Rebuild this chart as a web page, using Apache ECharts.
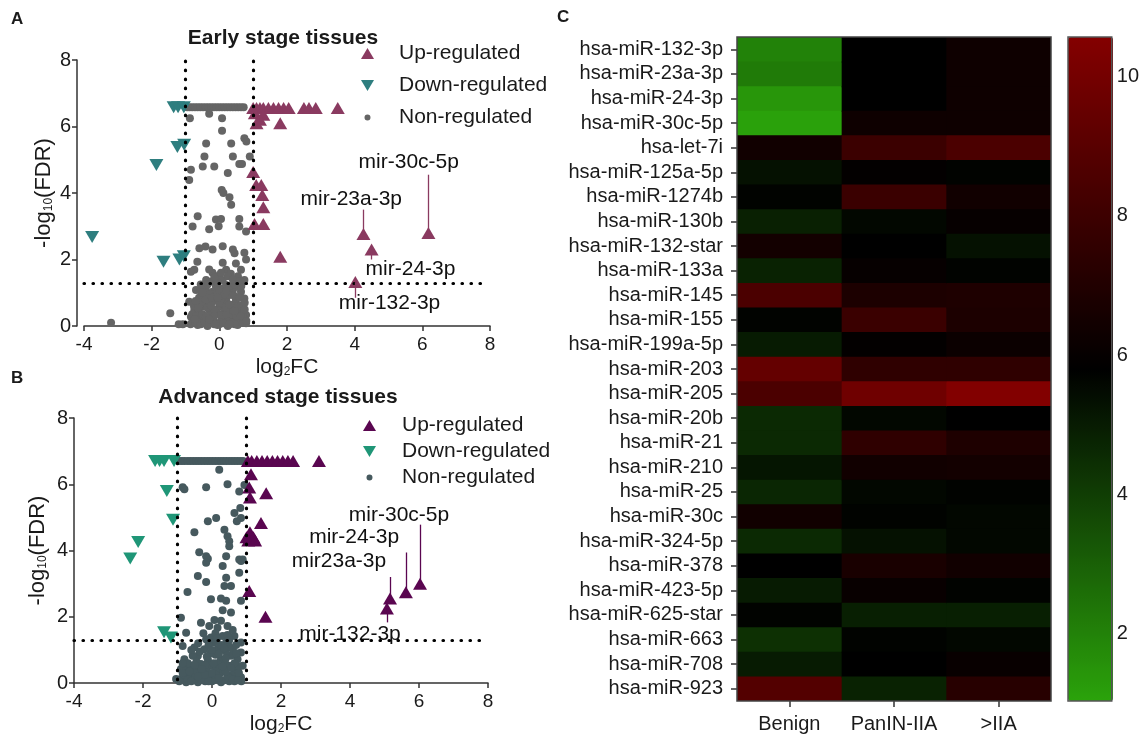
<!DOCTYPE html>
<html>
<head>
<meta charset="utf-8">
<title>miRNA volcano plots and heatmap</title>
<script src="https://cdn.jsdelivr.net/npm/echarts@6/dist/echarts.min.js"></script>
<style>
  html, body { margin: 0; padding: 0; background: #fff; }
  #chart { width: 1142px; height: 736px; }
</style>
</head>
<body>
<div id="chart"></div>
<script>
// ---- panel A: early stage (log2FC, -log10 FDR) ----
const earlyUp = [
  [1.0, 6.56], [1.1, 6.56], [1.2, 6.56], [1.3, 6.56], [1.45, 6.56], [1.6, 6.56], [1.75, 6.56],
  [1.9, 6.56], [2.05, 6.56], [2.5, 6.56], [2.65, 6.56], [2.85, 6.56], [3.5, 6.56],
  [1.05, 6.4], [1.3, 6.35], [1.1, 6.1], [1.2, 6.2], [1.8, 6.1],
  [1.0, 4.63], [1.09, 4.24], [1.24, 4.24], [1.27, 3.94], [1.3, 3.57], [1.04, 3.07], [1.3, 3.07], [1.8, 2.08],
  [4.26, 2.77], [4.5, 2.3], [4.02, 1.32], [6.18, 2.8]
];
const earlyDown = [
  [-1.35, 6.58], [-1.22, 6.58], [-1.05, 6.58], [-1.24, 5.38], [-1.04, 5.45], [-1.86, 4.84],
  [-3.76, 2.68], [-1.65, 1.93], [-1.18, 2.0], [-1.05, 2.1]
];
const earlyNon = [
  // saturated row
  [-0.95, 6.58], [-0.88, 6.58], [-0.8, 6.58], [-0.72, 6.58], [-0.64, 6.58], [-0.56, 6.58], [-0.48, 6.58],
  [-0.4, 6.58], [-0.32, 6.58], [-0.24, 6.58], [-0.16, 6.58], [-0.08, 6.58], [0, 6.58], [0.08, 6.58],
  [0.16, 6.58], [0.24, 6.58], [0.32, 6.58], [0.4, 6.58], [0.48, 6.58], [0.56, 6.58], [0.64, 6.58], [0.72, 6.58],
  // scattered
  [-0.3, 6.38], [0.08, 6.25], [-0.87, 6.25], [0.08, 5.87], [-0.39, 5.49], [0.35, 5.49], [0.74, 5.65],
  [0.8, 5.55], [-0.44, 5.1], [0.4, 5.1], [0.59, 4.87], [0.67, 4.87], [0.9, 5.1], [-0.49, 4.8], [-0.15, 4.8],
  [-0.84, 4.7], [0.25, 4.6], [-0.89, 4.39], [0.07, 4.09], [0.12, 4.0], [0.3, 3.87], [0.35, 3.65],
  [-0.64, 3.3], [-0.1, 3.2], [0.05, 3.22], [0.59, 3.22], [-0.79, 2.99], [-0.3, 2.91], [-0.02, 3.0],
  [0.59, 2.99], [0.79, 2.84],
  // dense cluster
  [-0.59, 2.34], [-0.41, 2.39], [-0.2, 2.3], [0.1, 2.4], [0.4, 2.3], [0.45, 2.19], [0.74, 2.2], [0.79, 2.0],
  [-0.65, 1.93], [-0.74, 1.69], [-0.84, 1.63], [0.1, 1.9], [0.49, 1.88], [0.64, 1.69], [-0.2, 1.6],
  [0, 1.53], [0.2, 1.69], [0.34, 1.57], [-0.39, 1.38], [-0.25, 1.33], [0.1, 1.38], [0.49, 1.33], [0.74, 1.38],
  [-0.69, 1.08], [-0.49, 0.88], [-0.2, 1.03], [0.1, 1.13], [0.4, 1.08], [0.64, 1.03], [-0.89, 0.73],
  [-0.74, 0.48], [-0.39, 0.68], [-0.1, 0.88], [0.2, 0.78], [0.49, 0.78], [0.69, 0.63], [-0.59, 0.38],
  [-0.3, 0.48], [0, 0.58], [0.3, 0.48], [0.59, 0.43], [-0.79, 0.18], [-0.49, 0.23], [-0.2, 0.18], [0.1, 0.28],
  [0.4, 0.23], [0.64, 0.18], [-0.64, 0.03], [-0.35, 0.0], [-0.05, 0.03], [0.25, 0.0], [0.54, 0.03], [0.79, 0.08],
  [-0.49, 0.58], [-0.2, 0.73], [0.1, 0.68], [0.4, 0.63], [-0.05, 0.38], [0.25, 0.23], [-0.39, 0.08],
  [0.49, 0.13], [0.79, 0.33], [-0.84, 0.28], [-0.1, 1.18], [0.2, 1.23], [-0.3, 0.98], [0.3, 0.93],
  [0.54, 1.18], [0, 1.03], [-0.54, 0.68], [0.74, 0.83], [-0.15, 0.5], [0.15, 0.45], [0.35, 0.35],
  [-0.25, 0.3], [0.6, 0.6], [-0.6, 0.15], [0.05, 0.15],
  [-0.85, 0.05], [-0.7, 0.1], [-0.55, 0.05], [-0.45, 0.12], [-0.3, 0.08], [-0.12, 0.1], [0.0, 0.05],
  [0.12, 0.08], [0.35, 0.1], [0.45, 0.05], [0.7, 0.1], [-0.8, 0.35], [-0.68, 0.3], [-0.5, 0.35],
  [-0.4, 0.28], [-0.15, 0.3], [0.05, 0.33], [0.2, 0.35], [0.5, 0.3], [0.7, 0.28], [-0.75, 0.6],
  [-0.62, 0.55], [-0.35, 0.55], [-0.25, 0.62], [0.2, 0.55], [0.3, 0.65], [0.52, 0.55], [0.75, 0.5],
  [-0.6, 0.85], [-0.4, 0.8], [-0.22, 0.85], [0.05, 0.8], [0.15, 0.95], [0.45, 0.9], [0.6, 0.85],
  [0.75, 0.7], [-0.55, 1.05], [-0.4, 1.15], [-0.05, 1.3], [0.3, 1.2], [0.45, 1.25], [0.65, 1.2],
  [-0.15, 1.45], [0.25, 1.5], [0.55, 1.5],
  [-0.7, 0.75], [-0.5, 1.0], [0.0, 0.7], [0.3, 0.05], [-0.15, 0.05], [0.62, 0.3], [0.45, 0.45],
  [-0.3, 0.2], [-0.05, 0.85], [0.2, 1.05], [-0.35, 1.25], [0.4, 1.4], [0.6, 1.35], [-0.55, 1.25],
  [0.05, 1.6], [-0.3, 1.7], [0.8, 0.15], [-0.72, 0.2],
  // outliers
  [-3.2, 0.1], [-1.45, 0.38], [-1.2, 0.05], [-1.08, 0.05]
];
const earlyNotes = [
  // name, point, leader end, label centre
  ['mir-30c-5p', [6.18, 2.8], [6.18, 4.55], [5.6, 4.92]],
  ['mir-23a-3p', [4.26, 2.77], [4.26, 3.5], [3.9, 3.8]],
  ['mir-24-3p', [4.5, 2.3], [4.5, 2.0], [5.65, 1.7]],
  ['mir-132-3p', [4.02, 1.32], [4.02, 0.85], [5.03, 0.68]]
];

// ---- panel B: advanced stage ----
const advUp = [
  [1.04, 6.7], [1.15, 6.7], [1.3, 6.7], [1.45, 6.7], [1.6, 6.7], [1.75, 6.7], [1.9, 6.7], [2.05, 6.7],
  [2.2, 6.7], [2.35, 6.7], [3.1, 6.7],
  [1.13, 6.3], [1.08, 5.9], [1.1, 5.6], [1.57, 5.73], [1.42, 4.83], [1.0, 4.4], [1.1, 4.55], [1.2, 4.4],
  [1.05, 4.3], [1.25, 4.3], [1.08, 2.78], [1.55, 2.0],
  [6.03, 3.0], [5.62, 2.74], [5.16, 2.55], [5.07, 2.25]
];
const advDown = [
  [-1.65, 6.7], [-1.52, 6.7], [-1.39, 6.7], [-1.1, 6.7], [-1.31, 5.8], [-1.13, 4.93],
  [-2.14, 4.26], [-2.37, 3.76], [-1.39, 1.53], [-1.19, 1.37]
];
const advNon = [
  [-0.95, 6.7], [-0.87, 6.7], [-0.79, 6.7], [-0.7, 6.7], [-0.62, 6.7], [-0.54, 6.7], [-0.46, 6.7],
  [-0.38, 6.7], [-0.3, 6.7], [-0.22, 6.7], [-0.14, 6.7], [-0.06, 6.7], [0.02, 6.7], [0.1, 6.7],
  [0.18, 6.7], [0.26, 6.7], [0.34, 6.7], [0.42, 6.7], [0.5, 6.7], [0.58, 6.7], [0.66, 6.7], [0.74, 6.7],
  [0.82, 6.7], [0.9, 6.7],
  [0.21, 6.44], [-0.85, 5.91], [-0.8, 5.85], [-0.17, 5.91], [0.45, 6.0], [0.79, 5.78], [0.94, 5.98],
  [0.82, 5.28], [0.65, 5.13], [0.84, 4.98], [0.72, 4.88], [0.12, 4.98], [-0.12, 4.88], [-0.51, 4.55],
  [0.36, 4.63], [0.45, 4.43], [0.5, 4.28], [0.5, 4.13], [-0.37, 3.95], [-0.17, 3.83], [-0.12, 3.75],
  [0.41, 3.83], [0.79, 3.73], [0.89, 3.73], [0.31, 3.53],
  [-0.17, 3.63], [0.84, 3.68], [0.79, 3.33], [-0.41, 3.23], [-0.17, 3.05], [0.41, 3.18], [0.36, 2.93],
  [0.55, 2.93], [-0.71, 2.75], [-0.03, 2.53], [0.26, 2.55], [0.41, 2.48], [0.55, 2.13], [0.31, 2.2],
  [0.84, 2.48], [-0.32, 1.82], [-0.9, 1.97], [0.07, 1.9], [0.26, 1.88], [-0.08, 1.72], [0.16, 1.67],
  [0.45, 1.72], [-0.75, 1.52], [-0.03, 1.37], [-0.17, 1.32], [0.65, 1.42], [0.84, 1.22], [-0.85, 1.12],
  [-0.51, 1.07], [-0.41, 0.82], [-0.12, 0.72], [0.41, 1.22], [0.74, 0.72], [0.89, 0.52], [-0.9, 0.42],
  [-0.61, 0.22], [-0.9, 0.12], [-1.04, 0.12], [-0.32, 0.27], [-0.03, 0.17], [0.26, 0.32], [0.55, 0.22],
  [0.84, 0.17], [-0.41, 0.02], [0.26, 0.02], [-0.03, 0.52], [0.26, 0.72], [0.55, 0.82], [0.5, 0.52],
  [-0.32, 0.57], [-0.61, 0.52], [0.16, 1.02], [0.6, 1.02], [-0.22, 1.02], [0.07, 1.22], [0.31, 1.42],
  [0.84, 0.92], [-0.8, 0.72], [-0.56, 0.82], [0.0, 0.05], [0.5, 0.05], [-0.2, 0.05], [0.7, 0.4],
  [-0.75, 0.02], [0.12, 0.42], [0.38, 0.6], [-0.45, 0.4], [0.65, 0.05], [0.1, 0.85], [0.4, 0.95],
  [-0.95, 0.05], [-0.8, 0.25], [-0.7, 0.1], [-0.5, 0.12], [-0.3, 0.1], [-0.1, 0.05], [0.1, 0.1],
  [0.35, 0.08], [0.45, 0.2], [0.7, 0.2], [0.85, 0.05], [-0.75, 0.45], [-0.5, 0.3], [-0.15, 0.35],
  [0.1, 0.25], [0.4, 0.35], [0.65, 0.35], [0.78, 0.5], [-0.7, 0.6], [-0.45, 0.65], [-0.2, 0.55],
  [0.15, 0.6], [0.4, 0.75], [0.65, 0.6], [-0.35, 0.95], [-0.05, 0.9], [0.2, 0.88], [0.5, 1.1],
  [0.7, 0.9], [-0.1, 1.15], [0.25, 1.15], [0.45, 1.45], [0.1, 1.5], [-0.25, 1.5], [0.6, 1.6],
  [-0.85, 0.3], [-0.6, 0.05], [-0.4, 0.2], [-0.2, 0.25], [0.0, 0.3], [0.2, 0.15], [0.6, 0.1],
  [0.78, 0.3], [-0.65, 0.35], [-0.3, 0.42], [0.05, 0.6], [0.3, 0.5], [0.55, 0.45], [-0.5, 0.55],
  [-0.15, 0.8], [0.0, 1.0], [0.35, 1.05], [0.7, 1.15], [-0.4, 1.2], [0.15, 1.35], [0.5, 1.3],
  [-0.6, 1.0], [0.75, 0.08], [-0.85, 0.6]
];
const advNotes = [
  ['mir-30c-5p', [6.03, 3.0], [6.03, 4.78], [5.42, 5.08]],
  ['mir-24-3p', [5.62, 2.74], [5.62, 3.94], [4.12, 4.4]],
  ['mir23a-3p', [5.16, 2.55], [5.16, 3.2], [3.68, 3.67]],
  ['mir-132-3p', [5.07, 2.25], [5.07, 1.83], [4.0, 1.47]]
];

const fcCut = 1;
const fdrCut = 1.3;

// ---- panel C: heatmap ----
const mirnas = [
  'hsa-miR-132-3p', 'hsa-miR-23a-3p', 'hsa-miR-24-3p', 'hsa-miR-30c-5p', 'hsa-let-7i', 'hsa-miR-125a-5p',
  'hsa-miR-1274b', 'hsa-miR-130b', 'hsa-miR-132-star', 'hsa-miR-133a', 'hsa-miR-145', 'hsa-miR-155',
  'hsa-miR-199a-5p', 'hsa-miR-203', 'hsa-miR-205', 'hsa-miR-20b', 'hsa-miR-21', 'hsa-miR-210',
  'hsa-miR-25', 'hsa-miR-30c', 'hsa-miR-324-5p', 'hsa-miR-378', 'hsa-miR-423-5p', 'hsa-miR-625-star',
  'hsa-miR-663', 'hsa-miR-708', 'hsa-miR-923'
];
const stages = ['Benign', 'PanIN-IIA', '>IIA'];
const benign = [2.0, 2.2, 1.4, 1.1, 6.4, 5.3, 5.7, 4.85, 6.5, 4.8, 8.5, 5.7, 5.0, 9.4, 8.5, 4.6, 4.6, 5.2, 4.7, 6.4, 4.6, 5.8, 5.0, 5.7, 4.4, 5.0, 8.8];
const panin = [5.8, 5.8, 5.8, 6.3, 7.95, 5.9, 7.9, 5.6, 5.8, 6.0, 6.8, 7.9, 5.9, 7.5, 9.8, 5.6, 7.5, 6.4, 5.6, 5.7, 5.3, 6.7, 6.1, 4.9, 5.7, 5.8, 4.8];
const advanced = [6.3, 6.3, 6.3, 6.3, 8.5, 5.7, 6.4, 6.0, 5.3, 5.7, 6.9, 6.8, 6.2, 7.5, 10.5, 5.8, 6.9, 6.5, 5.7, 5.6, 5.6, 6.4, 5.7, 4.9, 5.6, 6.1, 7.2];
const scaleMin = 1.03;
const scaleMax = 10.57;
const scaleTicks = [2, 4, 6, 8, 10];

const FONT = 'Liberation Sans, Arial, sans-serif';
const INK = '#1a1a1a';

const heatData = [];
[benign, panin, advanced].forEach((col, ci) => {
  col.forEach((v, ri) => heatData.push([ci, ri, v]));
});

const subRich = { s: { fontSize: 12, color: INK, fontFamily: FONT, padding: [9, 0, 0, 0] } };

function volcanoAxes(gridIndex, yOffset, yNameGap) {
  const x = {
    type: 'value', gridIndex: gridIndex, min: -4, max: 8, interval: 2,
    name: 'log{s|2}FC', nameLocation: 'middle', nameGap: 31,
    nameTextStyle: { fontSize: 21, color: INK, fontFamily: FONT, rich: subRich },
    splitLine: { show: false },
    axisLine: { onZero: false, lineStyle: { color: '#333', width: 1.5 } },
    axisTick: { length: 5, lineStyle: { color: '#333', width: 1.5 } },
    axisLabel: { fontSize: 19, color: INK, fontFamily: FONT, margin: 9 }
  };
  const y = {
    type: 'value', gridIndex: gridIndex, min: 0, max: 8, interval: 2, offset: yOffset,
    name: '-log{s|10}(FDR)', nameLocation: 'middle', nameGap: yNameGap, nameRotate: 90,
    nameTextStyle: { fontSize: 22, color: INK, fontFamily: FONT, rich: subRich },
    splitLine: { show: false },
    axisLine: { show: true, onZero: false, lineStyle: { color: '#333', width: 1.5 } },
    axisTick: { show: true, length: 5, lineStyle: { color: '#333', width: 1.5 } },
    axisLabel: { fontSize: 20, color: INK, fontFamily: FONT, margin: 6 }
  };
  return [x, y];
}

function thresholdLines() {
  return {
    silent: true, symbol: ['none', 'none'], animation: false,
    label: { show: false },
    lineStyle: { color: '#000', width: 3.2, type: [0.5, 8.5], cap: 'round' },
    data: [
      [{ coord: [-fcCut, 0.1] }, { coord: [-fcCut, 8] }],
      [{ coord: [fcCut, 0.1] }, { coord: [fcCut, 8] }],
      [{ coord: [-4, fdrCut] }, { coord: [7.8, fdrCut] }]
    ]
  };
}

function noteLeaders(notes, color) {
  return {
    silent: true, symbol: ['none', 'none'], animation: false,
    label: { show: false },
    lineStyle: { color: color, width: 1.3, type: 'solid' },
    data: notes.map(n => [{ coord: n[1] }, { coord: n[2] }])
  };
}

function volcanoSeries(gi, up, down, non, notes, colors) {
  return [
    {
      name: 'Non-regulated', type: 'scatter', xAxisIndex: gi, yAxisIndex: gi, data: non,
      symbol: 'circle', symbolSize: 8, itemStyle: { color: colors.non, opacity: 1 },
      markLine: thresholdLines(), z: 2
    },
    {
      name: 'Up-regulated', type: 'scatter', xAxisIndex: gi, yAxisIndex: gi, data: up,
      symbol: 'triangle', symbolSize: [14, 12], itemStyle: { color: colors.up, opacity: 1 },
      markLine: noteLeaders(notes, colors.up), z: 3
    },
    {
      name: 'Down-regulated', type: 'scatter', xAxisIndex: gi, yAxisIndex: gi, data: down,
      symbol: 'triangle', symbolRotate: 180, symbolSize: [14, 12],
      itemStyle: { color: colors.down, opacity: 1 }, z: 3
    },
    {
      name: 'notes', type: 'scatter', xAxisIndex: gi, yAxisIndex: gi, silent: true, z: 4,
      data: notes.map(n => [n[3][0], n[3][1], n[0]]),
      symbol: 'rect', symbolSize: 0.01, itemStyle: { color: INK, opacity: 1 },
      label: {
        show: true, position: [0, 0], align: 'center', verticalAlign: 'middle', opacity: 1,
        formatter: p => p.value[2], fontSize: 21, color: '#111', fontFamily: FONT
      }
    }
  ];
}

const smallDot = 'path://M0,0L0.01,0M13,11L13.01,11M3.5,5.5a3,3 0 1 0 6,0a3,3 0 1 0 -6,0z';
function legendFor(left, top, gap, textPad, colors) {
  return {
    left: left, top: top, orient: 'vertical', padding: 0, itemGap: gap,
    itemWidth: 13, itemHeight: 11, selectedMode: false,
    textStyle: { fontSize: 21, color: INK, fontFamily: FONT, padding: [0, 0, 0, textPad] },
    data: [
      { name: 'Up-regulated', icon: 'triangle', itemStyle: { color: colors.up } },
      { name: 'Down-regulated', icon: 'path://M0,0L13,0L6.5,11Z', itemStyle: { color: colors.down } },
      { name: 'Non-regulated', icon: smallDot, itemStyle: { color: colors.non } }
    ]
  };
}

const colorsA = { up: '#8a3a60', down: '#2e7e7f', non: '#656565' };
const colorsB = { up: '#5a0650', down: '#1f9677', non: '#46595e' };

const axA = volcanoAxes(0, 7, 22);
const axB = volcanoAxes(1, 0, 25);
const bold = size => ({ fontSize: size, fontWeight: 'bold', color: INK, fontFamily: FONT });

// heatmap cells drawn 1px oversize so neighbouring cells leave no hairline seams
function heatCell(params, api) {
  const c = api.coord([api.value(0), api.value(1)]);
  const s = api.size([1, 1]);
  return {
    type: 'rect',
    shape: { x: c[0] - s[0] / 2, y: c[1] - s[1] / 2, width: s[0] + 1, height: s[1] + 1 },
    style: { fill: api.visual('color') }
  };
}

const option = {
  animation: false,
  backgroundColor: '#fff',
  textStyle: { fontFamily: FONT },
  title: [
    { text: 'A', left: 11, top: 11, padding: 0, textStyle: bold(17) },
    { text: 'B', left: 11, top: 370, padding: 0, textStyle: bold(17) },
    { text: 'C', left: 557, top: 9, padding: 0, textStyle: bold(17) },
    { text: 'Early stage tissues', left: 283, top: 28, padding: 0, textAlign: 'center', textStyle: bold(21) },
    { text: 'Advanced stage tissues', left: 278, top: 387, padding: 0, textAlign: 'center', textStyle: bold(21) }
  ],
  legend: [legendFor(361, 43, 11, 20, colorsA), legendFor(363, 415, 5, 21, colorsB)],
  grid: [
    { left: 84, top: 60, width: 406, height: 266 },
    { left: 74, top: 418, width: 414, height: 266 },
    { left: 737, top: 37, width: 314, height: 664, show: true, borderColor: '#444', borderWidth: 1.5, backgroundColor: 'transparent', z: 3 },
    { left: 1068, top: 37, width: 45, height: 664, show: true, borderColor: '#555', borderWidth: 1.5, backgroundColor: 'transparent', z: 5 }
  ],
  xAxis: [
    axA[0], axB[0],
    {
      type: 'category', gridIndex: 2, data: stages,
      axisLine: { show: false }, splitLine: { show: false },
      axisTick: { show: true, alignWithLabel: true, length: 6, lineStyle: { color: '#333', width: 1.5 } },
      axisLabel: { interval: 0, fontSize: 20, color: INK, fontFamily: FONT, margin: 13 }
    },
    { type: 'value', gridIndex: 3, show: false, min: 0, max: 1 }
  ],
  yAxis: [
    axA[1], axB[1],
    {
      type: 'category', gridIndex: 2, data: mirnas, inverse: true,
      axisLine: { show: false }, splitLine: { show: false },
      axisTick: { show: true, interval: 0, alignWithLabel: true, length: 6, lineStyle: { color: '#333', width: 1.5 } },
      axisLabel: { interval: 0, fontSize: 20, color: INK, fontFamily: FONT, margin: 14 }
    },
    {
      type: 'value', gridIndex: 3, position: 'left', min: scaleMin, max: scaleMax,
      axisLine: { show: false }, splitLine: { show: false },
      axisTick: { show: true, inside: true, length: 6, customValues: scaleTicks, lineStyle: { color: '#222', width: 1.2 } },
      axisLabel: { show: false }
    },
    {
      type: 'value', gridIndex: 3, position: 'right', min: scaleMin, max: scaleMax,
      axisLine: { show: false }, splitLine: { show: false },
      axisTick: { show: true, inside: true, length: 6, customValues: scaleTicks, lineStyle: { color: '#222', width: 1.2 } },
      axisLabel: { show: true, customValues: scaleTicks, fontSize: 20, color: INK, fontFamily: FONT, margin: 5 }
    }
  ],
  visualMap: {
    type: 'continuous', seriesIndex: 8, dimension: 2, min: scaleMin, max: scaleMax,
    calculable: false, realtime: false, show: true,
    left: 1068, top: 37, padding: 0, itemWidth: 45, itemHeight: 664,
    text: null, showLabel: false,
    inRange: { color: ['#2ba30b', '#000000', '#840000'] }
  },
  series: [
    ...volcanoSeries(0, earlyUp, earlyDown, earlyNon, earlyNotes, colorsA),
    ...volcanoSeries(1, advUp, advDown, advNon, advNotes, colorsB),
    {
      name: 'expression', type: 'custom', xAxisIndex: 2, yAxisIndex: 2, data: heatData,
      encode: { x: 0, y: 1 }, renderItem: heatCell, silent: true, clip: true
    }
  ]
};

const chart = echarts.init(document.getElementById('chart'), null, { renderer: 'canvas' });
chart.setOption(option);
</script>
</body>
</html>
